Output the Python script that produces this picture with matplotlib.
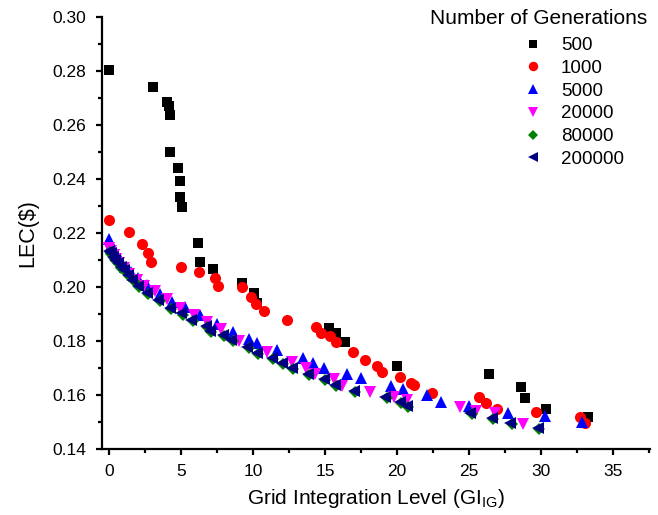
import matplotlib
matplotlib.use("Agg")
import matplotlib.pyplot as plt

plt.rcParams["font.family"] = ["Liberation Sans", "DejaVu Sans"]
plt.rcParams["mathtext.default"] = "regular"

# -----------------------------
# DATA
# -----------------------------
gen_labels = ["500", "1000", "5000", "20000", "80000", "200000"]

x_500 = [0, 3.08, 4.05, 4.17, 4.21, 4.21, 4.81, 4.93, 4.95, 5.05, 6.2, 6.34, 7.24,
         9.26, 10.1, 10.3, 15.3, 15.76, 16.4, 20.0, 26.4, 28.6, 28.9, 30.35, 33.3]
y_500 = [0.2804, 0.274, 0.2686, 0.267, 0.2638, 0.25, 0.244, 0.2393, 0.2332, 0.2296,
         0.2162, 0.2093, 0.2068, 0.2014, 0.1977, 0.1942, 0.1847, 0.1829, 0.1795,
         0.1709, 0.1677, 0.163, 0.1589, 0.155, 0.152]

x_1000 = [0, 1.41, 2.27, 2.69, 2.92, 5.0, 6.27, 7.36, 7.57, 9.2, 9.86, 10.19, 10.74,
          12.38, 14.38, 14.72, 15.35, 15.76, 16.97, 17.78, 18.59, 18.94, 20.23,
          21.0, 21.2, 22.45, 25.7, 26.23, 26.98, 29.65, 32.7, 33.06]
y_1000 = [0.2249, 0.2203, 0.2158, 0.2125, 0.2091, 0.2075, 0.2057, 0.2032, 0.2004,
          0.1999, 0.1962, 0.1937, 0.1911, 0.1877, 0.1853, 0.1829, 0.1819, 0.1798,
          0.1758, 0.1731, 0.1707, 0.1685, 0.1668, 0.1643, 0.1638, 0.1606, 0.1594,
          0.1571, 0.1548, 0.1536, 0.152, 0.1497]

x_5000 = [0, 0.15, 0.3, 0.5, 0.8, 1.1, 1.5, 2.0, 2.6, 3.5, 4.4, 5.3, 6.3, 7.5, 8.6,
          9.7, 10.25, 11.7, 13.5, 14.15, 14.9, 16.5, 17.5, 19.6, 20.4, 22.1, 23.1,
          25.0, 27.7, 30.3, 32.9]
y_5000 = [0.2177, 0.2155, 0.2135, 0.212, 0.2095, 0.2075, 0.2055, 0.2035, 0.2007,
          0.1975, 0.1946, 0.1925, 0.1895, 0.1862, 0.1835, 0.1807, 0.1791, 0.1767,
          0.1736, 0.172, 0.1701, 0.1676, 0.1662, 0.1633, 0.1621, 0.16, 0.1575,
          0.1558, 0.1535, 0.1522, 0.1501]

x_20000 = [0, 0.15, 0.3, 0.5, 0.7, 1.0, 1.4, 1.9, 2.4, 3.2, 4.0, 4.9, 5.9, 6.8, 7.8,
           9.0, 10.95, 12.7, 13.7, 14.3, 15.6, 16.2, 18.1, 19.8, 20.7, 24.4, 25.5,
           26.8, 28.8]
y_20000 = [0.2145, 0.2132, 0.212, 0.2105, 0.209, 0.2072, 0.205, 0.2025, 0.2003,
           0.1984, 0.1955, 0.1923, 0.1895, 0.187, 0.1843, 0.18, 0.176, 0.1724,
           0.1699, 0.1677, 0.1658, 0.1633, 0.161, 0.1594, 0.158, 0.1557, 0.1541,
           0.1532, 0.1492]

x_80000 = [0.05, 0.15, 0.3, 0.45, 0.65, 0.85, 1.1, 1.4, 1.7, 2.1, 2.7, 3.5, 4.3, 5.1,
           5.8, 6.8, 7.1, 8.0, 8.6, 9.7, 10.35, 11.4, 12.1, 12.8, 13.9, 15.0, 15.8,
           17.1, 19.3, 20.3, 20.8, 25.2, 26.7, 28.0, 29.9]
y_80000 = [0.2131, 0.2121, 0.2108, 0.2096, 0.2084, 0.2071, 0.2058, 0.2041, 0.2021,
           0.2001, 0.1973, 0.1948, 0.1919, 0.1898, 0.1874, 0.1853, 0.1832, 0.1817,
           0.18, 0.1775, 0.1753, 0.1734, 0.1716, 0.1695, 0.1675, 0.1656, 0.1634,
           0.161, 0.159, 0.1571, 0.1556, 0.1531, 0.151, 0.1493, 0.1473]

x_200000 = [0, 0.1, 0.25, 0.4, 0.6, 0.8, 1.0, 1.3, 1.6, 2.0, 2.6, 3.4, 4.2, 5.0, 5.7,
            6.7, 7.0, 7.9, 8.5, 9.6, 10.25, 11.3, 12.0, 12.7, 13.8, 14.9, 15.7,
            17.0, 19.2, 20.2, 20.7, 25.1, 26.6, 27.9, 29.8]
y_200000 = [0.2135, 0.2125, 0.2112, 0.21, 0.2088, 0.2075, 0.2062, 0.2045, 0.2025,
            0.2005, 0.1977, 0.1952, 0.1923, 0.1902, 0.1878, 0.1857, 0.1836, 0.1821,
            0.1804, 0.1779, 0.1757, 0.1738, 0.172, 0.1699, 0.1679, 0.166, 0.1638,
            0.1614, 0.1594, 0.1575, 0.156, 0.1535, 0.1514, 0.1497, 0.1477]

series_x = [x_500, x_1000, x_5000, x_20000, x_80000, x_200000]
series_y = [y_500, y_1000, y_5000, y_20000, y_80000, y_200000]

# -----------------------------
# STYLE
# -----------------------------
colors = ["#000000", "#ff0000", "#0000ff", "#ff00ff", "#008000", "#000080"]
markers = ["s", "o", "^", "v", "D", "<"]
sizes = [7.5, 8, 8.5, 8.5, 6, 8.5]

fig = plt.figure(figsize=(6.58, 5.15), dpi=100)
ax = fig.add_axes([102 / 658, 1 - 449 / 515, (650 - 102) / 658, (449 - 17) / 515])

for xs, ys, lab, c, m, ms in zip(series_x, series_y, gen_labels, colors, markers, sizes):
    ax.plot(xs, ys, linestyle="none", marker=m, markersize=ms, color=c,
            markeredgewidth=0, label=lab)

ax.set_xlim(-0.5, 37.6)
ax.set_ylim(0.14, 0.30)
ax.set_xticks([0, 5, 10, 15, 20, 25, 30, 35])
ax.set_xticks([2.5, 7.5, 12.5, 17.5, 22.5, 27.5, 32.5, 37.5], minor=True)
ax.set_yticks([0.14, 0.16, 0.18, 0.20, 0.22, 0.24, 0.26, 0.28, 0.30])
ax.set_yticks([0.15, 0.17, 0.19, 0.21, 0.23, 0.25, 0.27, 0.29], minor=True)
ax.set_yticklabels([f"{v:.2f}" for v in ax.get_yticks()])

for side in ["top", "right"]:
    ax.spines[side].set_visible(False)
for side in ["left", "bottom"]:
    ax.spines[side].set_linewidth(1.6)

ax.tick_params(which="major", direction="out", length=4.5, width=1.6, labelsize=12.5)
ax.tick_params(axis="y", which="major", pad=7)
ax.tick_params(axis="x", which="major", pad=6)
ax.tick_params(which="minor", direction="out", length=3, width=1.6)

ax.set_xlabel("Grid Integration Level (GI$_{IG}$)", fontsize=15, labelpad=6)
ax.set_ylabel("LEC($)", fontsize=15.5, labelpad=10)

fig.text(539 / 658, 1 - 19 / 515, "Number of Generations", ha="center", va="center",
         fontsize=15)
ax.legend(loc="upper left", bbox_to_anchor=(514 / 658, 1 - 37 / 515),
          bbox_transform=fig.transFigure, frameon=False, borderpad=0,
          borderaxespad=0, fontsize=13.5, labelspacing=0.3, handletextpad=0.5,
          handlelength=2.0, numpoints=1, markerscale=0.85)

plt.savefig("out.png", dpi=100)
plt.close()
